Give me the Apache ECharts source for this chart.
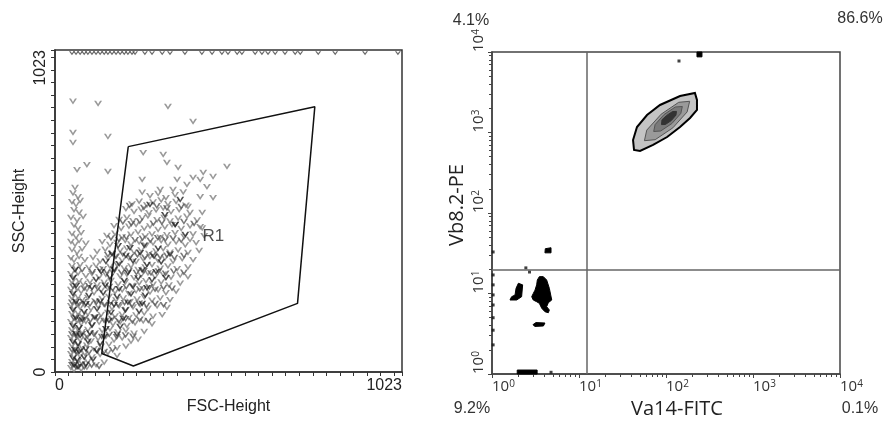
<!DOCTYPE html>
<html><head><meta charset="utf-8">
<script src="https://cdn.jsdelivr.net/npm/echarts@6/dist/echarts.min.js"></script>
<style>html,body{margin:0;padding:0;background:#fff}#c{width:884px;height:426px}</style>
</head><body><div id="c"></div>
<script>
// ---------- Left panel: FSC-Height vs SSC-Height (0-1023 linear) ----------
const fscLabels = [0, 1023];
const sscLabels = [0, 1023];
const fscSscLight = [
[53,859],[127,852],[333,843],[407,795],[53,760],[156,747],[53,728],[65,642],[94,658],[156,636],[257,611],[59,585],
[260,696],[319,690],[330,665],[363,649],[360,611],[389,595],[310,579],[348,579],[407,617],[428,611],[437,633],[507,652],
[466,620],[448,588],[428,556],[392,525],[434,506],[466,553],[428,461],[398,420],
[53,568],[68,556],[257,570],[280,559],[304,566],[327,553],[354,562],[378,571],
[50,540],[62,531],[74,544],[227,533],[248,542],[271,530],[289,539],[313,546],[333,534],[357,541],[386,529],
[56,515],[71,507],[209,518],[233,509],[254,516],[277,505],[298,514],[319,520],[342,508],[366,515],[398,506],
[47,490],[65,482],[83,493],[189,484],[212,491],[230,480],[257,489],[274,495],[301,483],[322,490],[339,479],[363,488],[389,494],[419,482],
[56,466],[68,457],[174,464],[195,455],[218,462],[239,468],[263,456],[280,463],[304,452],[324,460],[345,467],[372,455],[398,463],[434,457],
[50,439],[62,430],[77,442],[153,433],[177,440],[198,428],[224,437],[245,444],[266,431],[286,438],[310,427],[330,435],[354,442],[381,430],[407,438],[440,432],
[47,414],[59,405],[71,417],[91,408],[139,413],[162,404],[183,411],[207,417],[224,406],[248,412],[268,402],[289,409],[313,416],[333,405],[357,412],[384,403],[416,410],
[50,388],[65,380],[80,391],[124,382],[148,389],[168,378],[192,386],[212,392],[233,381],[254,387],[277,376],[298,384],[319,391],[339,380],[363,387],[392,379],[425,385],
[47,362],[56,354],[71,366],[88,356],[112,363],[133,352],[156,360],[177,366],[198,355],[218,361],[239,350],[260,358],[280,365],[304,354],[324,361],[348,351],[375,359],[407,356],
[50,337],[62,329],[74,340],[100,331],[121,338],[142,327],[162,335],[183,341],[204,330],[224,336],[245,325],[266,333],[286,340],[310,329],[333,336],[360,327],[392,333],
[47,311],[56,303],[68,314],[91,305],[109,312],[130,301],[150,309],[171,315],[192,304],[212,310],[233,299],[254,307],[274,314],[295,303],[319,310],[342,300],[369,307],[392,302],
[50,286],[59,278],[71,289],[83,280],[103,287],[124,276],[145,284],[165,290],[186,279],[207,285],[227,274],[248,282],[268,289],[289,278],[313,285],[336,276],[369,281],
[47,261],[56,253],[65,264],[77,255],[94,262],[115,251],[136,259],[156,265],[177,254],[198,260],[218,249],[239,257],[260,264],[280,253],[304,260],[327,251],[357,256],
[50,235],[59,227],[68,238],[80,229],[97,236],[118,225],[139,233],[159,239],[180,228],[201,234],[221,223],[242,231],[263,238],[286,227],[310,234],[339,229],
[47,210],[56,202],[65,213],[74,204],[88,211],[106,200],[127,208],[148,214],[168,203],[189,209],[209,198],[230,206],[251,213],[274,202],[301,209],[330,204],
[50,184],[59,176],[68,187],[80,178],[97,185],[115,174],[136,182],[156,188],[177,177],[198,183],[218,172],[239,180],[263,187],[289,176],[316,181],
[47,159],[56,151],[65,162],[77,153],[91,160],[109,149],[130,157],[150,163],[171,152],[192,158],[212,147],[236,155],[260,161],[286,152],
[50,133],[59,125],[68,136],[80,127],[97,134],[118,123],[139,131],[162,137],[186,126],[209,132],[233,122],[263,128],
[47,108],[56,100],[65,111],[74,102],[88,109],[106,98],[127,106],[150,112],[174,101],[198,107],[224,97],[245,103],
[50,83],[59,75],[68,86],[80,77],[94,84],[115,73],[136,81],[159,87],[183,76],[209,81],
[47,57],[56,49],[65,60],[74,51],[88,58],[109,47],[133,55],[156,61],[183,52],
[50,32],[59,24],[68,35],[80,26],[97,33],[121,22],[145,30],
[47,13],[56,6],[65,16],[77,8],[94,14]
];
const fscSscMid = [
[220,528],[262,522],[300,527],[330,520],[372,525],
[200,476],[225,470],[250,478],[290,472],[315,475],[355,469],[380,477],[410,471],
[165,425],[188,420],[210,427],[236,419],[258,424],[281,418],[303,426],[325,421],[348,425],[372,418],
[156,372],[180,367],[200,374],[222,366],[243,371],[265,364],[288,372],[310,366],[330,370],[352,363],[380,369],
[80,324],[110,318],[132,325],[153,317],[175,323],[196,316],[218,322],[240,315],[262,321],[283,314],[305,320],[326,313],[350,319],[380,316],
[53,272],[86,266],[100,273],[126,265],[160,271],[170,264],[210,270],[250,263],[278,269],[295,262],[320,268],[345,265],
[50,221],[71,216],[84,222],[103,215],[122,221],[145,214],[164,220],[186,213],[205,219],[227,212],[248,218],[270,211],[295,217],[320,213],
[56,170],[74,165],[88,171],[104,164],[126,170],[145,163],[168,169],[188,162],[208,168],[228,161],[250,167],[275,163],
[50,120],[62,114],[80,121],[95,113],[115,119],[138,112],[160,118],[182,111],[208,117],[230,113],
[50,69],[62,63],[77,70],[100,62],[122,68],[145,64],[170,70],
[50,22],[62,16],[74,23],[86,15],[108,21],[130,17]
];
const fscSscDark = [
[186,400],[221,394],[263,402],[304,392],
[168,375],[209,369],[251,378],[292,367],[339,374],
[150,350],[189,343],[230,352],[271,341],[313,349],
[59,324],[136,318],[174,326],[215,315],[257,323],[298,318],
[53,299],[121,293],[162,301],[204,290],[245,298],[286,292],[327,299],
[62,273],[109,267],[148,275],[189,264],[230,272],[271,267],
[53,248],[100,242],[142,250],[183,239],[224,247],[266,243],
[62,222],[91,216],[133,224],[174,213],[215,221],[257,217],
[53,197],[86,191],[124,199],[165,188],[207,196],[248,192],
[62,172],[80,166],[118,174],[159,163],[201,170],
[53,146],[71,140],[109,148],[150,137],[192,144],
[62,121],[74,115],[103,123],[145,112],[183,119],
[53,95],[68,89],[97,97],[133,90],
[59,70],[71,64],[91,72],[124,66],
[53,44],[65,38],[86,46],[112,40],
[56,22],[68,16],[91,24],
[280,531],[324,499],[354,467],[384,436],[369,547]
];
const saturatedSSC = 1013;
const saturatedFSC = [50,62,74,86,97,109,121,133,145,156,168,180,192,204,215,227,236,265,286,316,339,383,433,463,492,510,537,551,590,610,628,649,678,708,723,776,826,914,1011];
const gateR1 = [[216,716],[766,843],[715,218],[231,19],[138,59],[216,716]];
const gateLabelPos = [467, 430];

// ---------- Right panel: Va14-FITC vs Vb8.2-PE (log 10^0-10^4) ----------
const logTicks = [1, 10, 100, 1000, 10000];
const quadX = 12.2;
const quadY = 19.6;
const quadrantPercents = ['4.1%', '86.6%', '9.2%', '0.1%']; // UL, UR, LL, LR
const contourOuter = [[42.9,606],[41.8,807],[46.4,1170],[60.5,1649],[85.3,2197],[145,2838],[215,3096],[227,2536],[227,1905],[189,1514],[145,1170],[103,879],[71,700],[50.3,589]];
const contourL2 = [[187,2442],[175,1803],[120,1143],[75.1,814],[56.5,791],[60.1,1071],[87.9,1687],[140,2372]];
const contourL3 = [[154,2104],[148,1727],[117,1294],[86.9,1044],[72.2,1029],[74.9,1253],[95.1,1674],[128,2074]];
const contourL4 = [[132,1829],[130,1641],[115,1406],[98.2,1257],[88.8,1253],[89.9,1438],[102,1631],[119,1823]];
const blobMain = [[3.50,16.2],[3.89,16.2],[4.25,14.7],[4.56,11.6],[4.73,9.58],[4.86,8.30],[4.44,7.69],[4.25,6.86],[4.56,6.24],[4.44,5.77],[4.06,5.94],[3.73,6.55],[3.50,7.55],[3.26,7.91],[2.98,8.30],[2.86,9.12],[2.98,10.0],[3.12,11.0],[3.26,12.8],[3.32,14.7]];
const blobLeft = [[2.01,13.4],[2.25,12.8],[2.19,9.12],[1.92,8.30],[1.61,8.30],[1.68,9.12],[1.84,9.58],[1.89,11.6]];
const blobDash = [[2.96,4.1],[3.2,4.35],[4.06,4.3],[3.9,3.95],[3.1,3.9]];
const blobUpper = [[4.06,32],[4.1,36],[4.77,37],[4.77,32]];
const blobBottom = [[1.95,1.0],[1.95,1.12],[3.3,1.12],[3.3,1.0]];
const blobTop = [[227,10000],[259,10000],[259,8700],[227,8700]];
const eventDots = [[141,7730],[4.77,1.05],[2.7,18.5],[2.45,20.8],[1.03,17],[1.03,12.8],[1.03,9.6],[1.03,7.2],[1.03,5.0],[1.03,3.5],[1.03,2.3],[1.03,32.8]];

const polygons = [contourOuter, contourL2, contourL3, contourL4, blobMain, blobLeft, blobDash, blobUpper, blobBottom, blobTop];
const polyStyles = [
  {fill:'#c4c4c4', stroke:'#000', lineWidth:2},
  {fill:'#9a9a9a', stroke:'#555', lineWidth:1},
  {fill:'#7a7a7a', stroke:'#555', lineWidth:1},
  {fill:'#333', stroke:'#333', lineWidth:1},
  {fill:'#000', stroke:'#000', lineWidth:1},
  {fill:'#000', stroke:'#000', lineWidth:1},
  {fill:'#000', stroke:'#000', lineWidth:1},
  {fill:'#000', stroke:'#000', lineWidth:1},
  {fill:'#000', stroke:'#000', lineWidth:1},
  {fill:'#000', stroke:'#000', lineWidth:1}
];

const logFmt = v => '{b|10}{s|' + Math.round(Math.log10(v)) + '}';
const logRich = {b:{fontSize:15, color:'#333', fontFamily:'Open Sans'}, s:{fontSize:10, color:'#333', fontFamily:'Open Sans', verticalAlign:'top'}};
const vSym = 'path://M0,0L3,4L6,0L4.5,0L3,2.2L1.5,0Z';
const LF = 'Liberation Sans, Arial, sans-serif';
const OF = 'Open Sans, Noto Sans, sans-serif';

const chart = echarts.init(document.getElementById('c'));
chart.setOption({
  animation: false,
  backgroundColor: '#fff',
  grid: [
    {left:55, top:50, width:347, height:322, show:true, borderColor:'#333', borderWidth:1.5},
    {left:492, top:52, width:348, height:322, show:true, borderColor:'#444', borderWidth:1.5}
  ],
  xAxis: [
    {gridIndex:0, type:'value', min:0, max:1023, interval:40,
     name:'FSC-Height', nameLocation:'middle', nameGap:22,
     nameTextStyle:{fontSize:16, color:'#222', fontFamily:LF},
     axisLine:{show:true, lineStyle:{color:'#333', width:1.5}},
     axisTick:{show:true, length:4, lineStyle:{color:'#333'}},
     axisLabel:{customValues:fscLabels, formatter:v => String(v), alignMinLabel:'left', alignMaxLabel:'right', fontSize:16, color:'#222', fontFamily:LF, margin:6},
     splitLine:{show:false}},
    {gridIndex:1, type:'log', logBase:10, min:1, max:10000,
     name:'Va14-FITC', nameLocation:'middle', nameGap:24,
     nameTextStyle:{fontSize:20, color:'#222', fontFamily:OF, padding:[0,0,0,22]},
     axisLine:{show:true, lineStyle:{color:'#444', width:1.5}},
     axisTick:{show:true, length:4, lineStyle:{color:'#444'}},
     minorTick:{show:true, splitNumber:9, length:3, lineStyle:{color:'#444'}},
     axisLabel:{formatter:logFmt, rich:logRich, fontSize:15, fontFamily:'Open Sans', color:'#333', align:'left', margin:5},
     splitLine:{show:false}, minorSplitLine:{show:false}}
  ],
  yAxis: [
    {gridIndex:0, type:'value', min:0, max:1023, interval:40,
     name:'SSC-Height', nameLocation:'middle', nameGap:27,
     nameTextStyle:{fontSize:16, color:'#222', fontFamily:LF},
     axisLine:{show:true, lineStyle:{color:'#333', width:1.5}},
     axisTick:{show:true, length:4, lineStyle:{color:'#333'}},
     axisLabel:{customValues:sscLabels, formatter:v => String(v), rotate:90, alignMaxLabel:'right', fontSize:16, color:'#222', fontFamily:LF, margin:6},
     splitLine:{show:false}},
    {gridIndex:1, type:'log', logBase:10, min:1, max:10000,
     name:'Vb8.2-PE', nameLocation:'middle', nameGap:25,
     nameTextStyle:{fontSize:20, color:'#222', fontFamily:OF, padding:[0,0,0,16]},
     axisLine:{show:true, lineStyle:{color:'#444', width:1.5}},
     axisTick:{show:true, length:4, lineStyle:{color:'#444'}},
     minorTick:{show:true, splitNumber:9, length:3, lineStyle:{color:'#444'}},
     axisLabel:{formatter:logFmt, rich:logRich, fontSize:15, fontFamily:'Open Sans', color:'#333', rotate:90, align:'left', margin:6},
     splitLine:{show:false}, minorSplitLine:{show:false}}
  ],
  graphic: [
    {type:'text', x:471, y:21, style:{text:quadrantPercents[0], font:'16px '+LF, fill:'#333', align:'center', verticalAlign:'middle', textAlign:'center', textVerticalAlign:'middle'}},
    {type:'text', x:860, y:19, style:{text:quadrantPercents[1], font:'16px '+LF, fill:'#333', align:'center', verticalAlign:'middle', textAlign:'center', textVerticalAlign:'middle'}},
    {type:'text', x:472, y:409, style:{text:quadrantPercents[2], font:'16px '+LF, fill:'#333', align:'center', verticalAlign:'middle', textAlign:'center', textVerticalAlign:'middle'}},
    {type:'text', x:860, y:409, style:{text:quadrantPercents[3], font:'16px '+LF, fill:'#333', align:'center', verticalAlign:'middle', textAlign:'center', textVerticalAlign:'middle'}}
  ],
  series: [
    {type:'scatter', xAxisIndex:0, yAxisIndex:0, data:fscSscLight, symbol:vSym, symbolSize:[8,6], itemStyle:{color:'#808080'}, silent:true},
    {type:'scatter', xAxisIndex:0, yAxisIndex:0, data:fscSscMid, symbol:vSym, symbolSize:[8,6], itemStyle:{color:'#555'}, silent:true},
    {type:'scatter', xAxisIndex:0, yAxisIndex:0, data:fscSscDark, symbol:vSym, symbolSize:[8,6], itemStyle:{color:'#222'}, silent:true},
    {type:'scatter', xAxisIndex:0, yAxisIndex:0, data:saturatedFSC.map(x => [x, saturatedSSC]), symbol:vSym, symbolSize:[6,4], itemStyle:{color:'#444'}, silent:true},
    {type:'line', xAxisIndex:0, yAxisIndex:0, data:gateR1, symbol:'none', lineStyle:{color:'#111', width:1.5}, z:5, silent:true},
    {type:'scatter', xAxisIndex:0, yAxisIndex:0, data:[gateLabelPos], symbolSize:0,
     label:{show:true, formatter:'R1', position:'inside', fontSize:17, color:'#222', fontFamily:LF}, silent:true},
    {type:'custom', xAxisIndex:1, yAxisIndex:1, silent:true, z:3,
     data: polygons.map((p, i) => [p[0][0], p[0][1], i]),
     renderItem: function (params, api) {
       const idx = api.value(2);
       const pts = polygons[idx].map(p => api.coord(p));
       const s = polyStyles[idx];
       return {type:'polygon', shape:{points:pts}, style:{fill:s.fill, stroke:s.stroke, lineWidth:s.lineWidth}};
     }},
    {type:'scatter', xAxisIndex:1, yAxisIndex:1, data:eventDots, symbol:'rect', symbolSize:3, itemStyle:{color:'#111'}, silent:true, z:4,
     markLine:{silent:true, symbol:'none', label:{show:false}, lineStyle:{color:'#666', width:1.5, type:'solid'},
       data:[{xAxis:quadX}, {yAxis:quadY}]}}
  ]
});
</script></body></html>
